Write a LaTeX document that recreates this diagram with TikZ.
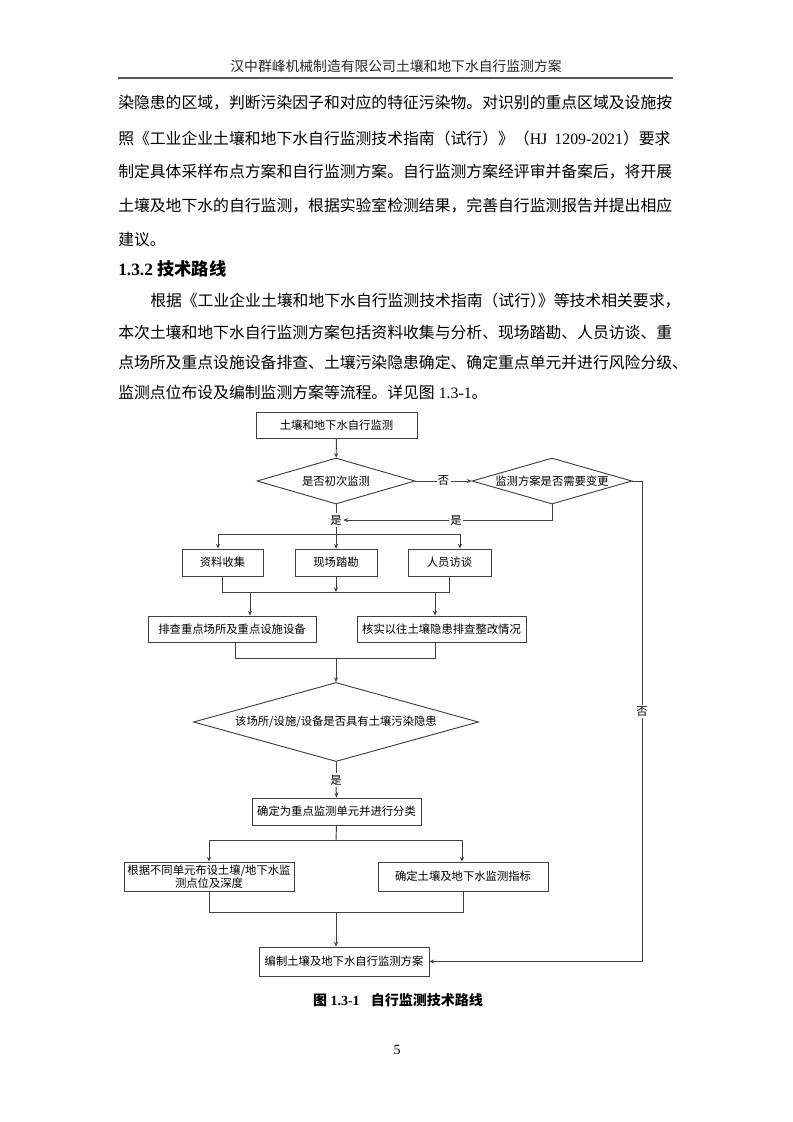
\documentclass[tikz,border=0pt]{standalone}
\usepackage{fontspec}
\setmainfont{Liberation Serif}
\newfontfamily\cjk{Noto Sans CJK SC}
\usetikzlibrary{shapes.geometric,arrows.meta}
\newcommand{\bodyfont}{\cjk\fontsize{11.87}{14}\selectfont}
\begin{document}
\begin{tikzpicture}[x=0.75pt,y=-0.75pt,
  fc/.style={font=\cjk\fontsize{8.5}{9.8}\selectfont},
  box/.style={fc,draw=black!75,line width=0.7pt,inner sep=1pt,align=center},
  dia/.style={fc,diamond,draw=black!75,line width=0.7pt,inner sep=0pt},
  conn/.style={draw=black!75,line width=0.7pt},
  arr/.style={conn,-{Stealth[length=3.5pt,width=3pt]}},
  lab/.style={fc,fill=white,inner sep=1pt},
  body/.style={font=\bodyfont,anchor=west,inner sep=0pt}]
\useasboundingbox (0,0) rectangle (793,1122);
\fill[white] (0,0) rectangle (793,1122);
% header
\node[font=\cjk\fontsize{10.35}{12}\selectfont,text=black!85] (hdr) at (396,66) {汉中群峰机械制造有限公司土壤和地下水自行监测方案};
\draw[line width=1.3pt,black!65] (118,78) -- (673,78);
% paragraph 1
\node[body] (p1) at (118,103) {染隐患的区域，判断污染因子和对应的特征污染物。对识别的重点区域及设施按};
\node[body] (p2) at (118,138) {照《工业企业土壤和地下水自行监测技术指南（试行）》（{\rmfamily\fontsize{11.87}{14}\selectfont HJ\hspace{0.45em}1209-2021}）要求};
\node[body] (p3) at (118,172) {制定具体采样布点方案和自行监测方案。自行监测方案经评审并备案后，将开展};
\node[body] (p4) at (118,206) {土壤及地下水的自行监测，根据实验室检测结果，完善自行监测报告并提出相应};
\node[body] (p5) at (118,240) {建议。};
% heading
\node[anchor=west,inner sep=0pt,font=\bfseries\fontsize{13}{15}\selectfont] (h1) at (118,269) {1.3.2 {\cjk 技术路线}};
% paragraph 2
\node[body] (q1) at (150,301) {根据《工业企业土壤和地下水自行监测技术指南（试行）\kern-0.5em》等技术相关要求，};
\node[body] (q2) at (118,332) {本次土壤和地下水自行监测方案包括资料收集与分析、现场踏勘、人员访谈、重};
\node[body] (q3) at (118,362) {点场所及重点设施设备排查、土壤污染隐患确定、确定重点单元并进行风险分级、};
\node[body] (q4) at (118,392) {监测点位布设及编制监测方案等流程。详见图{\rmfamily\fontsize{11.87}{14}\selectfont\ 1.3-1}。};
% flowchart
\node[box,minimum width=161*0.75pt,minimum height=26*0.75pt] (n1) at (336.5,425) {土壤和地下水自行监测};
\node[dia,minimum width=158*0.75pt,minimum height=46*0.75pt,aspect=3.4] (d1) at (336,481) {是否初次监测};
\node[dia,minimum width=160*0.75pt,minimum height=46*0.75pt,aspect=3.4] (d2) at (552,481) {监测方案是否需要变更};
\draw[arr] (n1) -- (d1);
\draw[arr] (d1) -- node[lab]{否} (d2);
\node[lab] (y1) at (336,520) {是};
\draw[conn] (d1.south) -- (y1.north);
\draw[arr] (d2.south) |- node[lab,pos=0.73]{是} (y1.east);
\coordinate (s1) at (336,534);
\coordinate (s1l) at (218,534);
\coordinate (s1r) at (460,534);
\draw[conn] (y1.south) -- (s1);
\draw[conn] (s1l) -- (s1r);
\node[box,minimum width=81*0.75pt,minimum height=27*0.75pt] (b1) at (222.5,562.5) {资料收集};
\node[box,minimum width=82*0.75pt,minimum height=27*0.75pt] (b2) at (336,562.5) {现场踏勘};
\node[box,minimum width=83*0.75pt,minimum height=27*0.75pt] (b3) at (449.5,562.5) {人员访谈};
\draw[arr] (s1l) -- (s1l |- b1.north);
\draw[arr] (s1) -- (b2.north);
\draw[arr] (s1r) -- (s1r |- b3.north);
\coordinate (m1) at (336,592);
\coordinate (m1l) at (250,592);
\coordinate (m1r) at (435,592);
\draw[conn] (b1.south) |- (m1) -| (b3.south);
\draw[arr] (b2.south) -- (m1);
\node[box,minimum width=168*0.75pt,minimum height=26*0.75pt] (c1) at (232,629) {排查重点场所及重点设施设备};
\node[box,minimum width=169*0.75pt,minimum height=26*0.75pt] (c2) at (441.5,629) {核实以往土壤隐患排查整改情况};
\draw[arr] (m1l) -- (m1l |- c1.north);
\draw[arr] (m1r) -- (m1r |- c2.north);
\coordinate (c1b) at (235,642);
\coordinate (c2b) at (435,642);
\coordinate (m2) at (336,658);
\draw[conn] (c1b) |- (m2) -| (c2b);
\node[dia,minimum width=285*0.75pt,minimum height=79*0.75pt,aspect=3.6] (d3) at (336,722) {该场所/设施/设备是否具有土壤污染隐患};
\draw[arr] (m2) -- (d3.north);
\node[lab] (y2) at (336,780) {是};
\draw[conn] (d3.south) -- (y2.north);
\node[box,minimum width=169*0.75pt,minimum height=27*0.75pt] (e1) at (336.5,811.5) {确定为重点监测单元并进行分类};
\draw[arr] (y2.south) -- (e1.north);
\coordinate (s3) at (336,840);
\coordinate (s3l) at (209,840);
\coordinate (s3r) at (462,840);
\draw[conn] (e1.south) -- (s3);
\draw[conn] (s3l) -- (s3r);
\node[box,minimum width=170*0.75pt,minimum height=29*0.75pt] (f1) at (209,876.5) {根据不同单元布设土壤/地下水监\\测点位及深度};
\node[box,minimum width=170*0.75pt,minimum height=29*0.75pt] (f2) at (463,876.5) {确定土壤及地下水监测指标};
\draw[arr] (s3l) -- (f1.north);
\draw[arr] (s3r) -- (s3r |- f2.north);
\coordinate (m4) at (336,912);
\draw[conn] (f1.south) |- (m4) -| (f2.south);
\node[box,minimum width=170*0.75pt,minimum height=29*0.75pt] (g) at (344,961.5) {编制土壤及地下水自行监测方案};
\draw[arr] (m4) -- (m4 |- g.north);
\coordinate (r1) at (642,481);
\coordinate (r2) at (642,961.5);
\draw[arr] (d2.east) -- (r1) -- node[lab,pos=0.48]{否} (r2) -- (g.east);
% caption
\node[font=\bfseries\fontsize{10.5}{12}\selectfont] (cap) at (398,1000) {{\cjk 图} 1.3-1\hspace{0.8em}{\cjk 自行监测技术路线}};
\node[font=\fontsize{10.5}{12}\selectfont] (pg) at (397,1050) {5};
\end{tikzpicture}
\end{document}
